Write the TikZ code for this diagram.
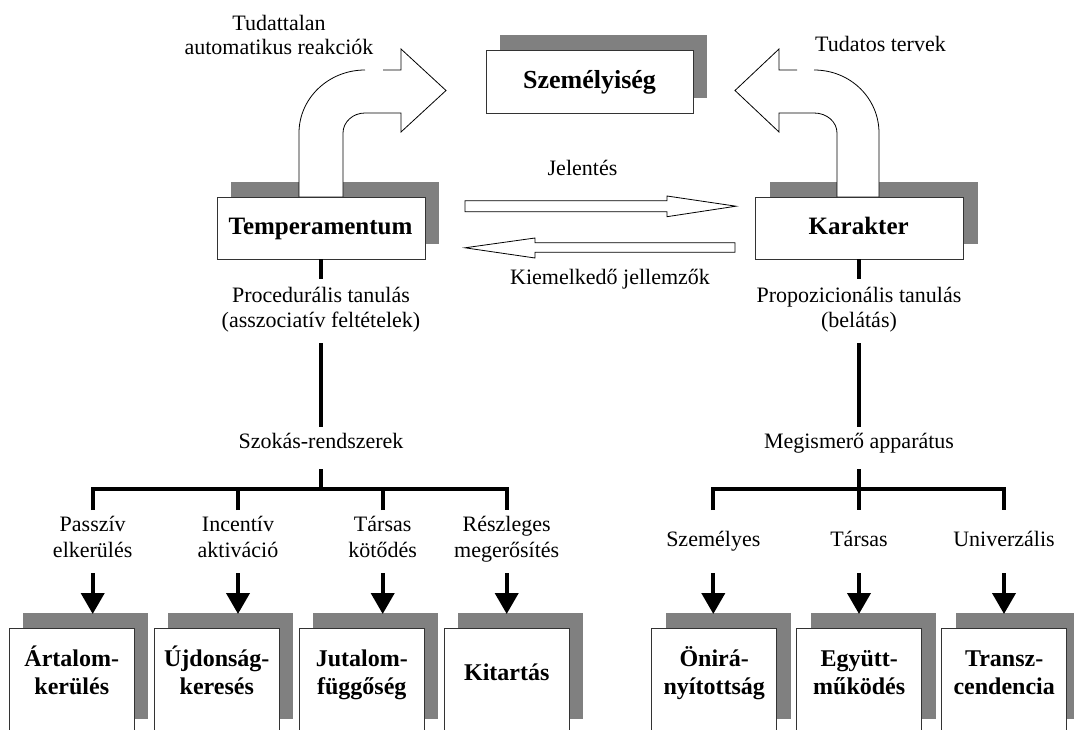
\documentclass[tikz,border=0pt]{standalone}
\usepackage{fontspec}
\setmainfont{Liberation Serif}
\usetikzlibrary{arrows.meta,shadows}
\begin{document}
\begin{tikzpicture}[x=1pt,y=-1pt,
  box/.style={draw=black!80, line width=0.9pt, fill=white, inner sep=0pt,
     drop shadow={shadow xshift=14pt, shadow yshift=15pt, fill=black!50, opacity=1}},
  bigbox/.style={box, minimum width=208pt, minimum height=62pt},
  smallbox/.style={box, minimum width=125pt, minimum height=106pt},
  lbl/.style={font=\fontsize{22}{26}\selectfont, inner sep=0pt, anchor=base},
  blbl/.style={font=\fontsize{25}{29}\selectfont\bfseries, inner sep=0pt, anchor=base},
  sbl/.style={font=\fontsize{24}{28}\selectfont\bfseries, inner sep=0pt, anchor=base},
  tree/.style={line width=4pt, line join=miter},
  barrow/.style={line width=4pt, -{Triangle[width=23pt,length=21pt]}},
  outline/.style={draw=black, line width=0.8pt, line join=miter},
  blockfill/.style={fill=white},
]
\fill[white] (0,0) rectangle (1074,730);
\useasboundingbox (0,0) rectangle (1074,730);

% ---- main boxes
\node[box, minimum width=207pt, minimum height=63pt] (szem) at (589.5,81.5) {};
\node[bigbox] (temp) at (321,228) {};
\node[bigbox] (kar) at (859.5,228) {};

% ---- bottom boxes
\foreach \x/\n in {71.8/1,216.8/2,361.8/3,506.8/4,714.2/5,859.2/6,1004.2/7}{
  \node[smallbox] (b\n) at (\x,681) {};
}

% ---- curved arrow left (Tudattalan automatikus reakciok)
\path[blockfill] (299,196.5) -- (299,133) .. controls (299,98.2) and (328.6,70) .. (365,70)
  -- (401,70) -- (401,49) -- (446,90.5) -- (401,132) -- (401,113) -- (365,113)
  .. controls (352.9,113) and (343,122) .. (343,133) -- (343,196.5) -- cycle;
\draw[outline] (299,197) -- (299,133) .. controls (299,98.2) and (328.6,70) .. (365,70);
\draw[outline] (383,70) -- (401,70) -- (401,49) -- (446,90.5) -- (401,132) -- (401,113) -- (365,113)
  .. controls (352.9,113) and (343,122) .. (343,133) -- (343,197);

% ---- curved arrow right (Tudatos tervek)
\path[blockfill] (879,196.5) -- (879,133) .. controls (879,98.2) and (850.4,70) .. (814,70)
  -- (779,70) -- (779,49) -- (735,90.5) -- (779,132) -- (779,113) -- (814,113)
  .. controls (827,113) and (837,122) .. (837,133) -- (837,196.5) -- cycle;
\draw[outline] (879,197) -- (879,133) .. controls (879,98.2) and (850.4,70) .. (814,70);
\draw[outline] (797,70) -- (779,70) -- (779,49) -- (735,90.5) -- (779,132) -- (779,113) -- (814,113)
  .. controls (827,113) and (837,122) .. (837,133) -- (837,197);

% ---- middle block arrows
\draw[outline, blockfill] (465,200.7) -- (667,200.7) -- (667,196) -- (736,206.2) -- (667,216.7)
  -- (667,211.7) -- (465,211.7) -- cycle;
\draw[outline, blockfill] (735,242.7) -- (535,242.7) -- (535,238) -- (465,247.8) -- (535,258)
  -- (535,252.3) -- (735,252.3) -- cycle;

% ---- labels top
\node[lbl] (tud1) at (279,30.7) {Tudattalan};
\node[lbl] (tud2) at (279,55) {automatikus reakciók};
\node[lbl] (tudt) at (880.5,51.7) {Tudatos tervek};
\node[font=\fontsize{26}{30}\selectfont\bfseries, inner sep=0pt, anchor=base] (szemt) at (589.5,88.3) {Személyiség};
\node[blbl] (tempt) at (320.5,235) {Temperamentum};
\node[blbl] (kart) at (858.7,235) {Karakter};
\node[lbl] (jel) at (582.5,176) {Jelentés};
\node[lbl] (kiem) at (610,284) {Kiemelkedő jellemzők};

% ---- left tree
\node[lbl] (proc1) at (321,302.7) {Procedurális tanulás};
\node[lbl] (proc2) at (321,327.5) {(asszociatív feltételek)};
\node[lbl] (szok) at (321,448.3) {Szokás-rendszerek};
\coordinate (lt1) at (321,279.3);
\coordinate (lt2) at (321,343.3);
\coordinate (lt3) at (321,426.7);
\coordinate (lt4) at (321,469.3);
\coordinate (lj) at (321,489);
\draw[tree] (temp.south) -- (lt1);
\draw[tree] (lt2) -- (lt3);
\draw[tree] (lt4) -- (lj);
\coordinate (la) at (92.7,510);
\coordinate (lb) at (238,510);
\coordinate (lc) at (382.7,510);
\coordinate (ld) at (506.7,510);
\draw[tree] (la) |- (lj) -| (ld);
\draw[tree] (lb) -- (lb |- lj);
\draw[tree] (lc) -- (lc |- lj);

\node[lbl] (l1a) at (92.7,531.7) {Passzív};
\node[lbl] (l1b) at (92.7,557.3) {elkerülés};
\node[lbl] (l2a) at (238,531.7) {Incentív};
\node[lbl] (l2b) at (238,557.3) {aktiváció};
\node[lbl] (l3a) at (382.7,531.7) {Társas};
\node[lbl] (l3b) at (382.7,557.3) {kötődés};
\node[lbl] (l4a) at (506.7,531.7) {Részleges};
\node[lbl] (l4b) at (506.7,557.3) {megerősítés};

% ---- right tree
\node[lbl] (prop1) at (859,302.7) {Propozicionális tanulás};
\node[lbl] (prop2) at (859,327.5) {(belátás)};
\node[lbl] (megi) at (859,448.3) {Megismerő apparátus};
\coordinate (rt1) at (859,279.3);
\coordinate (rt2) at (859,343.3);
\coordinate (rt3) at (859,426.7);
\coordinate (rt4) at (859,469.3);
\coordinate (rj) at (859,489);
\draw[tree] (kar.south -| rt1) -- (rt1);
\draw[tree] (rt2) -- (rt3);
\draw[tree] (rt4) -- (rj);
\coordinate (ra) at (713.3,510);
\coordinate (rb) at (859,510);
\coordinate (rc) at (1004,510);
\draw[tree] (ra) |- (rj) -| (rc);
\draw[tree] (rj) -- (rb);

\node[lbl] (r1) at (713.3,546) {Személyes};
\node[lbl] (r2) at (859,546) {Társas};
\node[lbl] (r3) at (1004,546) {Univerzális};

% ---- down arrows
\foreach \x/\n in {92.7/1,238/2,382.7/3,506.7/4,713.3/5,859/6,1004/7}{
  \coordinate (s\n) at (\x,573.3);
  \coordinate (e\n) at (\x,614);
  \draw[barrow] (s\n) -- (e\n);
}

% ---- bottom box texts
\node[sbl] (t1a) at (71.8,666.7) {Ártalom-};
\node[sbl] (t1b) at (71.8,694) {kerülés};
\node[sbl] (t2a) at (216.8,666.7) {Újdonság-};
\node[sbl] (t2b) at (216.8,694) {keresés};
\node[sbl] (t3a) at (361.8,666.7) {Jutalom-};
\node[sbl] (t3b) at (361.8,694) {függőség};
\node[sbl] (t4) at (506.8,680.7) {Kitartás};
\node[sbl] (t5a) at (714.2,666.7) {Önirá-};
\node[sbl] (t5b) at (714.2,694) {nyítottság};
\node[sbl] (t6a) at (859.2,666.7) {Együtt-};
\node[sbl] (t6b) at (859.2,694) {működés};
\node[sbl] (t7a) at (1004.2,666.7) {Transz-};
\node[sbl] (t7b) at (1004.2,694) {cendencia};
\end{tikzpicture}
\end{document}
